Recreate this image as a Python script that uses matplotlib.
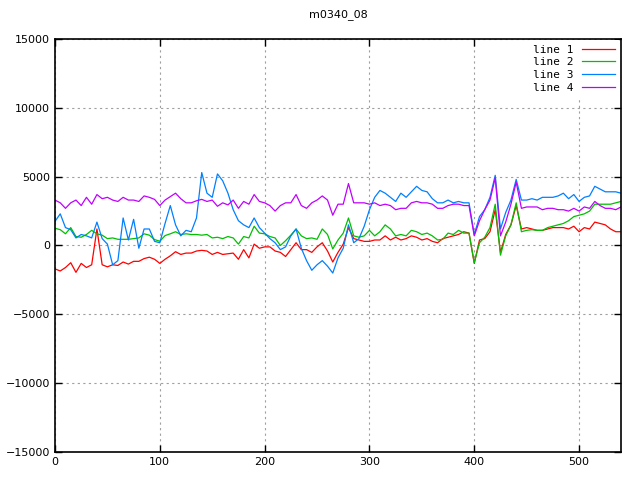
import numpy as np
import matplotlib
matplotlib.use("Agg")
import matplotlib.pyplot as plt

title = "m0340_08"
x = list(range(0, 541, 5))

line1 = [-1700, -1850, -1600, -1250, -1950, -1300, -1600, -1400, 1200, -1400, -1550, -1400, -1450, -1200, -1350, -1150, -1150, -950, -850,
         -1000, -1300, -1000, -750, -450, -650, -550, -550, -400, -350, -400, -650, -500, -650, -600, -550, -1000, -300,
         -900, 100, -200, -100, -100, -400, -500, -800, -300, 200, -300, -300, -500, -100, 200, -400, -1200, -500, 100,
         1300, 500, 400, 300, 300, 400, 400, 700, 400, 600, 400, 500, 700, 600, 400, 500, 300, 200,
         500, 600, 700, 800, 1000, 900, -1300, 400, 500, 1000, 2600, -500, 800, 1500, 2900, 1200, 1300, 1200,
         1100, 1100, 1200, 1300, 1300, 1300, 1200, 1400, 1000, 1300, 1200, 1700, 1600, 1500, 1200, 1000, 1000]

line2 = [1250, 1150, 850, 1300, 650, 600, 800, 1100, 850, 750, 500, 550, 450, 450, 450, 500, 550, 850, 750,
         430, 310, 720, 850, 1000, 800, 850, 800, 800, 750, 800, 550, 600, 500, 650, 550, 100, 650,
         550, 1400, 900, 850, 650, 550, 0, 350, 750, 1200, 700, 500, 550, 450, 1200, 800, -250, 400, 900,
         2000, 700, 600, 700, 1100, 700, 1000, 1500, 1200, 700, 800, 700, 1100, 1000, 800, 900, 700, 400,
         450, 900, 800, 1100, 900, 900, -1250, 200, 600, 1300, 3000, -700, 700, 1500, 3100, 1000, 1100, 1150,
         1100, 1100, 1300, 1400, 1500, 1600, 1800, 2100, 2200, 2300, 2500, 3000, 3000, 3000, 3000, 3100, 3200]

line3 = [1750, 2300, 1300, 1150, 550, 800, 700, 550, 1700, 500, 100, -1400, -1100, 2000, 400, 1900, -200, 1200, 1200,
         300, 200, 1600, 2900, 1500, 700, 1100, 1000, 2000, 5300, 3800, 3500, 5200, 4700, 3800, 2600, 1800, 1500,
         1300, 2000, 1300, 900, 500, 200, -300, -100, 700, 1200, -200, -1100, -1800, -1400, -1100, -1500, -2000, -900, -200,
         1500, 200, 500, 1400, 2600, 3500, 4000, 3800, 3500, 3200, 3800, 3500, 3900, 4300, 4000, 3900, 3400, 3100,
         3100, 3300, 3100, 3200, 3100, 3100, 800, 2100, 2600, 3500, 5100, 1200, 2400, 3300, 4800, 3300, 3300, 3400,
         3300, 3500, 3500, 3500, 3600, 3800, 3400, 3700, 3200, 3500, 3600, 4300, 4100, 3900, 3900, 3900, 3800]

line4 = [3300, 3100, 2700, 3100, 3300, 2900, 3500, 3000, 3700, 3400, 3500, 3300, 3200, 3500, 3300, 3300, 3200, 3600, 3500,
         3350, 2900, 3300, 3550, 3800, 3400, 3100, 3100, 3250, 3350, 3200, 3300, 2850, 3100, 2950, 3300, 2700, 3200,
         3000, 3700, 3200, 3100, 2900, 2500, 2900, 3100, 3100, 3700, 2900, 2700, 3100, 3300, 3600, 3300, 2200, 3000, 3000,
         4500, 3100, 3100, 3100, 3000, 3100, 2900, 3000, 2900, 2600, 2700, 2700, 3100, 3200, 3100, 3100, 3000, 2700,
         2700, 2900, 3000, 3000, 2900, 2900, 700, 1800, 2600, 3300, 4900, 700, 1700, 3000, 4600, 2700, 2800, 2800,
         2800, 2600, 2700, 2700, 2600, 2600, 2500, 2700, 2500, 2800, 2700, 3200, 2900, 2700, 2700, 2600, 2800]

labels = ["line 1", "line 2", "line 3", "line 4"]
colors = ["#ff0000", "#00c000", "#0080ff", "#c000ff"]
xticks = [0, 100, 200, 300, 400, 500]
yticks = [-15000, -10000, -5000, 0, 5000, 10000, 15000]

plt.rcParams['font.family'] = ['DejaVu Sans']
fig = plt.figure(figsize=(6.4, 4.8), dpi=100)
ax = fig.add_axes([55/640, 28/480, 566/640, 413/480])

for ys, lab, c in zip([line1, line2, line3, line4], labels, colors):
    ax.plot(x, ys, color=c, lw=0.9, label=lab)

ax.set_xlim(0, 540)
ax.set_ylim(-15000, 15000)
ax.set_xticks(xticks)
ax.set_yticks(yticks)
ax.tick_params(direction='in', top=True, right=True, labelsize=8, length=5, width=1)
ax.grid(True, color='#a0a0a0', linestyle=(0, (2, 3)), lw=0.8)
for s in ax.spines.values():
    s.set_linewidth(1.2)
ax.set_title(title, fontsize=8, pad=16)

leg = ax.legend(loc='upper right', frameon=True, markerfirst=False,
                handlelength=3.0, borderaxespad=0.1, labelspacing=0.25,
                prop={'family': 'DejaVu Sans Mono', 'size': 8})
leg.get_frame().set_edgecolor('none')
leg.get_frame().set_facecolor('white')
leg.get_frame().set_alpha(1.0)

fig.savefig("out.png", dpi=100)
